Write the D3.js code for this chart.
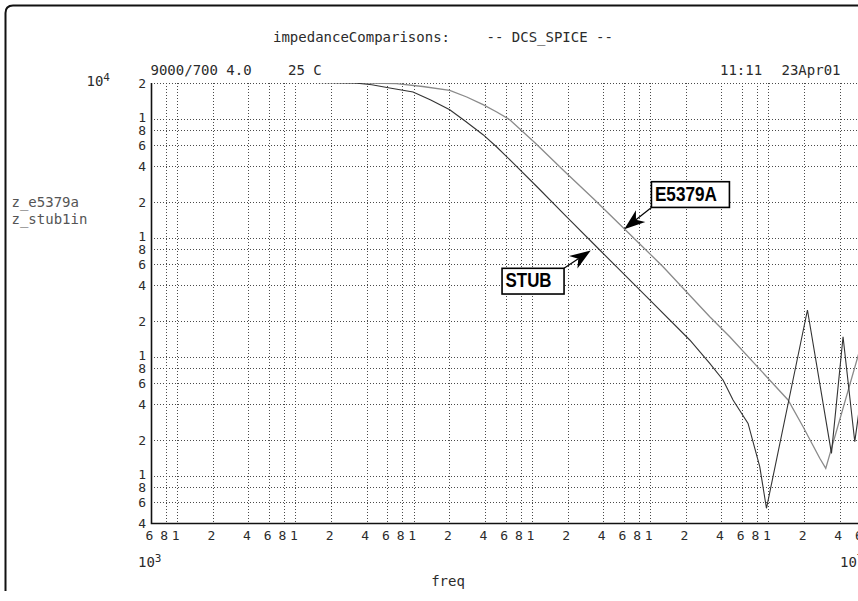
<!DOCTYPE html>
<html>
<head>
<meta charset="utf-8">
<script src="https://cdn.jsdelivr.net/npm/d3@7"></script>
<style>
  html, body { margin: 0; padding: 0; background: #fff; }
  svg { display: block; }
  text { font-family: "DejaVu Sans Mono", "Liberation Mono", monospace; }
</style>
</head>
<body>
<svg id="chart" width="858" height="601"></svg>
<script>
// Impedance magnitude (ohms) vs frequency (Hz) for the two simulated loads
const freqStub = [600, 1.087e4, 3.171e4, 4.416e4, 6.27e4, 9.87e4, 1.393e5, 2.017e5, 2.754e5, 3.858e5,
                  5.037e5, 6.489e5, 1.119e6, 1.957e6, 3.744e6, 9.295e6, 2.16e7, 3.189e7, 4.13e7,
                  5.018e7, 6.722e7, 8.44e7, 9.618e7, 2.137e8, 3.411e8, 4.274e8, 5.37e8, 6.784e8];
const zStub    = [20400, 20300, 20000, 19315, 18155, 16810, 14390, 11930, 9491, 7353,
                  5794, 4531, 2646, 1503, 789, 319.5, 138.2, 88.0, 63.7,
                  43.3, 27.5, 11.9, 5.32, 247, 15.4, 147.3, 19.3, 103.3];

const freqE5379a = [600, 1.087e4, 4.246e4, 7.143e4, 1.192e5, 2.017e5, 2.808e5, 3.858e5, 5.037e5,
                    6.489e5, 1.076e6, 1.832e6, 3.331e6, 6.09e6, 1.284e7, 3.189e7, 4.707e7,
                    1.465e8, 1.962e8, 2.716e8, 3.052e8, 6.153e8];
const zE5379a    = [20400, 20300, 20000, 19730, 18690, 17360, 15255, 13140, 11409,
                    9829, 6201, 3711, 2118, 1178, 571, 216.9, 147.3,
                    43.3, 25.8, 14.0, 11.5, 130.4];

// Log-axis tick mantissas and decades
const tickMantissas = [1, 2, 4, 6, 8];
const xDecades = [2, 3, 4, 5, 6, 7, 8];
const yDecades = [0, 1, 2, 3, 4];

// Arrow annotations: tip at (freq, ohms), box anchored at (freq, ohms)
const notes = [
  { label: "E5379A", tip: [6.03e6, 1180], box: [1.024e7, 2959], w: 78, corner: "bl" },
  { label: "STUB",   tip: [3.142e6, 781], box: [5.585e5, 553.5], w: 62, corner: "tr" }
];

const svg = d3.select("#chart");
const ink = "#2b2b2b";

const x = d3.scaleLog().domain([600, 1e9]).range([151, 886.7]);
const y = d3.scaleLog().domain([4, 2e4]).range([523, 83]);

// Outer frame (rounded corner)
svg.append("path")
  .attr("d", "M5.5,591 V13 Q5.5,5.5 13,5.5 H900")
  .attr("fill", "none").attr("stroke", "#111").attr("stroke-width", 2);

const xTicks = xDecades.flatMap(d => tickMantissas.map(m => m * Math.pow(10, d)))
  .filter(v => v >= 600 && v <= 1e9);
const yTicks = yDecades.flatMap(d => tickMantissas.map(m => m * Math.pow(10, d)))
  .filter(v => v >= 4 && v <= 2e4);
const mantissa = d => Math.round(d / Math.pow(10, Math.floor(Math.log10(d) + 1e-9)));

// Dotted grid
const grid = svg.append("g").attr("stroke", "#4a4a4a").attr("stroke-width", 1)
  .attr("stroke-dasharray", "1,2").attr("shape-rendering", "crispEdges");
grid.selectAll("line.v").data(xTicks.filter(v => v > 600)).join("line")
  .attr("x1", d => Math.round(x(d)) + 0.5).attr("x2", d => Math.round(x(d)) + 0.5)
  .attr("y1", 83).attr("y2", 523);
grid.selectAll("line.h").data(yTicks.filter(v => v > 4)).join("line")
  .attr("x1", 151).attr("x2", 900)
  .attr("y1", d => Math.round(y(d)) + 0.5).attr("y2", d => Math.round(y(d)) + 0.5);

// Axis lines (left and bottom)
svg.append("path").attr("d", "M151.5,83 V523.5 H900")
  .attr("fill", "none").attr("stroke", "#111").attr("stroke-width", 1.6);

// Tick labels
const tickFont = 13;
svg.append("g").selectAll("text").data(yTicks).join("text")
  .attr("x", 146).attr("y", d => y(d) - (mantissa(d) === 1 ? 1.5 : 0)).attr("dy", "0.36em")
  .attr("text-anchor", "end").attr("font-size", tickFont).attr("fill", ink)
  .text(mantissa);
svg.append("g").selectAll("text").data(xTicks).join("text")
  .attr("x", d => x(d) - 1.5).attr("y", 540)
  .attr("text-anchor", "middle").attr("font-size", tickFont).attr("fill", ink)
  .text(mantissa);

// Decade exponent labels
function powerLabel(px, py, exp) {
  const t = svg.append("text").attr("x", px).attr("y", py)
    .attr("font-size", 14).attr("fill", ink);
  t.append("tspan").text("10");
  t.append("tspan").attr("dy", -5).attr("font-size", 11).text(exp);
}
powerLabel(86.5, 86, "4");
powerLabel(138, 567, "3");
powerLabel(840, 567, "7");

// Header and axis-name text
function label(px, py, s, opts = {}) {
  svg.append("text").attr("x", px).attr("y", py)
    .attr("font-size", opts.size || 14).attr("fill", opts.fill || ink)
    .attr("text-anchor", opts.anchor || "start").text(s);
}
label(273, 41.5, "impedanceComparisons:");
label(486.5, 41.5, "-- DCS_SPICE --");
label(150.5, 75, "9000/700 4.0");
label(288, 75, "25 C");
label(720, 75, "11:11");
label(781.5, 75, "23Apr01");
label(448, 586, "freq", { anchor: "middle" });
label(11.5, 206.5, "z_e5379a", { fill: "#555" });
label(11.5, 223.5, "z_stub1in", { fill: "#555" });

// Curves
svg.append("defs").append("clipPath").attr("id", "plotClip")
  .append("rect").attr("x", 151).attr("y", 83).attr("width", 740).attr("height", 440);

const line = d3.line().x(d => x(d[0])).y(d => y(d[1]));
const plot = svg.append("g").attr("clip-path", "url(#plotClip)");
plot.append("path").datum(d3.zip(freqE5379a, zE5379a))
  .attr("d", line).attr("fill", "none").attr("stroke", "#8a8a8a").attr("stroke-width", 1.3);
plot.append("path").datum(d3.zip(freqStub, zStub))
  .attr("d", line).attr("fill", "none").attr("stroke", "#333").attr("stroke-width", 1.1);

// Callouts with arrows
const boxH = 25.7;
notes.forEach(n => {
  const bx = x(n.box[0]), by = y(n.box[1]);
  const tx = x(n.tip[0]), ty = y(n.tip[1]);
  const sx = n.corner === "bl" ? bx : bx + n.w;
  const sy = n.corner === "bl" ? by + boxH : by;
  const ang = Math.atan2(ty - sy, tx - sx);
  const ux = Math.cos(ang), uy = Math.sin(ang);
  const L = 21, W = 7.5, N = 15;
  const back = [tx - ux * L, ty - uy * L];
  const notch = [tx - ux * N, ty - uy * N];
  svg.append("line").attr("x1", sx).attr("y1", sy).attr("x2", notch[0]).attr("y2", notch[1])
    .attr("stroke", "#000").attr("stroke-width", 1.2);
  svg.append("polygon")
    .attr("points", [
      [tx, ty],
      [back[0] - uy * W, back[1] + ux * W],
      notch,
      [back[0] + uy * W, back[1] - ux * W]
    ].map(p => p.join(",")).join(" "))
    .attr("fill", "#000");
  svg.append("rect").attr("x", bx).attr("y", by).attr("width", n.w).attr("height", boxH)
    .attr("fill", "#fff").attr("stroke", "#000").attr("stroke-width", 1.6);
  svg.append("text").attr("x", bx + 3.5).attr("y", by + 19)
    .style("font-family", '"Liberation Sans Narrow", "Arial Narrow", "Liberation Sans", sans-serif')
    .attr("font-weight", "bold").attr("font-size", 20).attr("fill", "#000")
    .attr("textLength", n.label === "STUB" ? 46 : 62).attr("lengthAdjust", "spacingAndGlyphs")
    .text(n.label);
});
</script>
</body>
</html>
